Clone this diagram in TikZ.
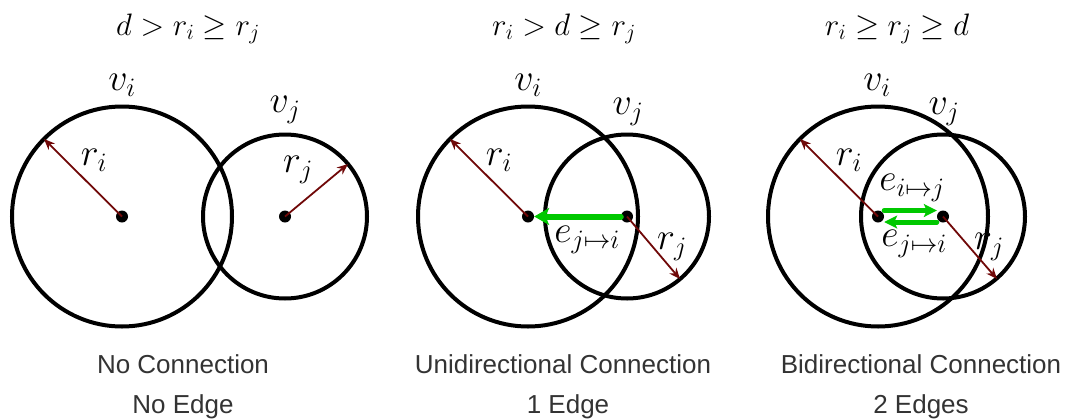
\RequirePackage{fix-cm}
\documentclass[tikz,border=0pt]{standalone}
\usepackage{fontspec}
\setsansfont{Liberation Sans}
\usetikzlibrary{arrows.meta}
\definecolor{radcol}{HTML}{700808}
\definecolor{edgecol}{HTML}{00C800}
\definecolor{captxt}{HTML}{333333}
\begin{document}
\begin{tikzpicture}[x=1pt,y=-1pt,
  ring/.style={line width=4pt},
  radarrow/.style={draw=radcol, line width=1.8pt, -{Stealth[length=11pt,width=9pt]}},
  edgearrow/.style={draw=edgecol, line width=6pt, line cap=round, -{Stealth[length=15pt,width=17pt,inset=4pt]}},
  edgearrowsm/.style={draw=edgecol, line width=5pt, line cap=round, -{Stealth[length=13pt,width=13pt,inset=3pt]}},
  dot/.style={circle, fill=black, inner sep=0pt, minimum size=12pt},
  lab/.style={inner sep=0pt, font=\fontsize{38}{42}\selectfont},
  ttl/.style={inner sep=0pt, font=\fontsize{31}{36}\selectfont},
  capt/.style={inner sep=0pt, anchor=base, font=\sffamily\fontsize{26}{30}\selectfont, text=captxt}
]
\useasboundingbox (0,0) rectangle (1071,418);

% ---------- Panel 1 ----------
\node[ttl] (t1) at (188,29) {$d > r_i \geq r_j$};
\node[dot] (ai) at (122,216.5) {};
\node[dot] (aj) at (285,216.5) {};
\draw[ring] (ai.center) circle[radius=110];
\draw[ring] (aj.center) circle[radius=82];
\coordinate (ari) at (44,139);
\coordinate (arj) at (348,164);
\draw[radarrow] (ai.center) -- (ari);
\draw[radarrow] (aj.center) -- (arj);
\node[lab] (avi) at (122,85) {$v_i$};
\node[lab] (avj) at (285,110) {$v_j$};
\node[lab] (alri) at (94,160) {$r_i$};
\node[lab] (alrj) at (298,170) {$r_j$};
\node[capt] (ac1) at (183,373) {No Connection};
\node[capt] (ac2) at (183,413.5) {No Edge};

% ---------- Panel 2 ----------
\node[ttl] (t2) at (564,29) {$r_i > d \geq r_j$};
\node[dot] (bi) at (528,216.5) {};
\node[dot] (bj) at (627,216.5) {};
\draw[ring] (bi.center) circle[radius=110];
\draw[ring] (bj.center) circle[radius=82];
\coordinate (bri) at (450,139);
\coordinate (brj) at (680,279);
\draw[radarrow] (bi.center) -- (bri);
\draw[radarrow] (bj.center) -- (brj);
\draw[edgearrow] (bj) -- (bi);
\node[lab] (bvi) at (528,85) {$v_i$};
\node[lab] (bvj) at (628,112) {$v_j$};
\node[lab] (blri) at (499,160) {$r_i$};
\node[lab] (blrj) at (672,247) {$r_j$};
\node[lab] (bej) at (587,240) {$e_{j\mapsto i}$};
\node[capt] (bc1) at (563,373) {Unidirectional Connection};
\node[capt] (bc2) at (568,413.5) {1 Edge};

% ---------- Panel 3 ----------
\node[ttl] (t3) at (897,29) {$r_i \geq r_j \geq d$};
\node[dot] (ci) at (878,216.5) {};
\node[dot] (cj) at (943,216.5) {};
\draw[ring] (ci.center) circle[radius=110];
\draw[ring] (cj.center) circle[radius=82];
\coordinate (cri) at (800,139);
\coordinate (crj) at (997,279);
\draw[radarrow] (ci.center) -- (cri);
\draw[radarrow] (cj.center) -- (crj);
\draw[edgearrowsm] ([yshift=6pt]ci.east) -- ([yshift=6pt]cj.west);
\draw[edgearrowsm] ([yshift=-5.5pt]cj.west) -- ([yshift=-5.5pt]ci.east);
\node[lab] (cvi) at (877,85) {$v_i$};
\node[lab] (cvj) at (944,112) {$v_j$};
\node[lab] (clri) at (849,160) {$r_i$};
\node[lab] (clrj) at (989,247) {$r_j$};
\node[lab] (ceij) at (912,188) {$e_{i\mapsto j}$};
\node[lab] (ceji) at (914,244) {$e_{j\mapsto i}$};
\node[capt] (cc1) at (921,373) {Bidirectional Connection};
\node[capt] (cc2) at (921,413.5) {2 Edges};
\end{tikzpicture}
\end{document}
